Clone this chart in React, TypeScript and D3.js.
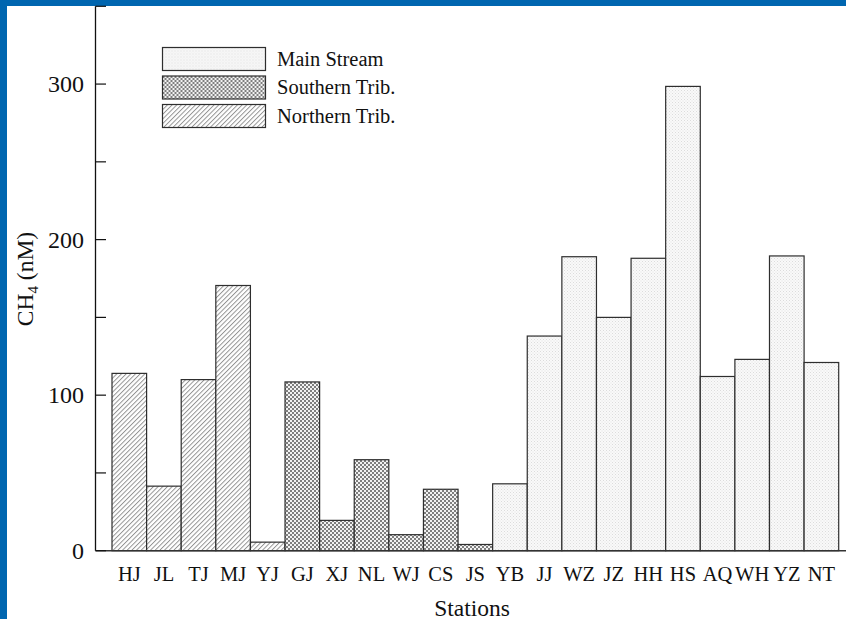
import React from "react";
import * as d3 from "d3";

// Station order along the river, grouped by water type
const stations = ["HJ", "JL", "TJ", "MJ", "YJ", "GJ", "XJ", "NL", "WJ", "CS", "JS", "YB", "JJ", "WZ", "JZ", "HH", "HS", "AQ", "WH", "YZ", "NT"];
// Dissolved CH4 concentration (nM) per station
const ch4 = [114, 41.5, 110, 170.5, 5.5, 108.5, 19.5, 58.5, 10.3, 39.5, 4, 43, 138, 189, 150, 188, 298.5, 112, 123, 189.5, 121];
// Water type of each station
const groups = ["N", "N", "N", "N", "N", "S", "S", "S", "S", "S", "S", "M", "M", "M", "M", "M", "M", "M", "M", "M", "M"];

const legendKeys = ["M", "S", "N"];
const legendLabels = ["Main Stream", "Southern Trib.", "Northern Trib."];
const yTicks = [0, 100, 200, 300];
const yMinorTicks = [0, 50, 100, 150, 200, 250, 300, 350];

const W = 846;
const H = 619;
const font = "'Liberation Serif', 'Times New Roman', serif";

const fillFor: Record<string, string> = {
  M: "url(#patMain)",
  S: "url(#patSouth)",
  N: "url(#patNorth)",
};

export default function App() {
  const x = d3.scaleBand<string>().domain(stations).range([112, 838.7]).padding(0);
  const y = d3.scaleLinear().domain([0, 350]).range([550.7, 6.3]);
  const axisX = 95.5;

  return (
    <svg
      width={W}
      height={H}
      style={{ position: "absolute", left: 0, top: 0, background: "#fff" }}
      fontFamily={font}
    >
      <defs>
        <pattern id="patMain" width={3} height={3} patternUnits="userSpaceOnUse">
          <rect width={3} height={3} fill="#f9f9f9" />
          <rect x={0} y={0} width={1} height={1} fill="#dcdcdc" />
          <rect x={1.5} y={1.5} width={1} height={1} fill="#e4e4e4" />
        </pattern>
        <pattern id="patSouth" width={4} height={4} patternUnits="userSpaceOnUse">
          <rect width={4} height={4} fill="#f2f2f2" />
          <rect x={0} y={0} width={2} height={2} fill="#7e7e7e" />
          <rect x={2} y={2} width={2} height={2} fill="#7e7e7e" />
        </pattern>
        <pattern
          id="patNorth"
          width={3.3}
          height={10}
          patternUnits="userSpaceOnUse"
          patternTransform="rotate(45)"
        >
          <rect width={3.3} height={10} fill="#fff" />
          <line x1={0.5} y1={0} x2={0.5} y2={10} stroke="#8a8a8a" strokeWidth={0.9} />
        </pattern>
      </defs>

      {/* frame bands */}
      <rect x={0} y={0} width={W} height={6} fill="#0066b0" />
      <rect x={0} y={0} width={7} height={H} fill="#0066b0" />

      {/* bars */}
      {stations.map((s, i) => (
        <rect
          key={s}
          x={x(s)!}
          y={y(ch4[i])}
          width={x.bandwidth()}
          height={y(0) - y(ch4[i])}
          fill={fillFor[groups[i]]}
          stroke="#2e2e2e"
          strokeWidth={1.2}
        />
      ))}

      {/* axes */}
      <line x1={axisX} x2={axisX} y1={y(350)} y2={y(0)} stroke="#111" strokeWidth={1.3} />
      <line x1={axisX} x2={W} y1={y(0)} y2={y(0)} stroke="#333" strokeWidth={1.6} />
      {yMinorTicks.map((t) => (
        <line key={t} x1={axisX} x2={axisX + 10.5} y1={y(t)} y2={y(t)} stroke="#111" strokeWidth={1.2} />
      ))}
      {yTicks.map((t) => (
        <text key={t} x={84} y={y(t)} dy="0.34em" textAnchor="end" fontSize={24} fill="#111">
          {t}
        </text>
      ))}
      {stations.map((s) => (
        <text
          key={s}
          x={x(s)! + x.bandwidth() / 2}
          y={580.5}
          textAnchor="middle"
          fontSize={20.5}
          fill="#111"
        >
          {s}
        </text>
      ))}

      {/* axis titles */}
      <text x={472} y={615.5} textAnchor="middle" fontSize={23.5} fill="#111">
        Stations
      </text>
      <text transform="translate(33,279) rotate(-90)" textAnchor="middle" fontSize={23.5} fill="#111">
        CH<tspan fontSize={15} dy={5}>4</tspan>
        <tspan dy={-5}> (nM)</tspan>
      </text>

      {/* legend */}
      {legendKeys.map((k, i) => (
        <g key={k} transform={`translate(162.5,${47.5 + i * 28.5})`}>
          <rect width={103} height={23} fill={fillFor[k]} stroke="#2e2e2e" strokeWidth={1.2} />
          <text x={114.5} y={11.5} dy="0.34em" fontSize={20.5} fill="#111">
            {legendLabels[i]}
          </text>
        </g>
      ))}
    </svg>
  );
}
